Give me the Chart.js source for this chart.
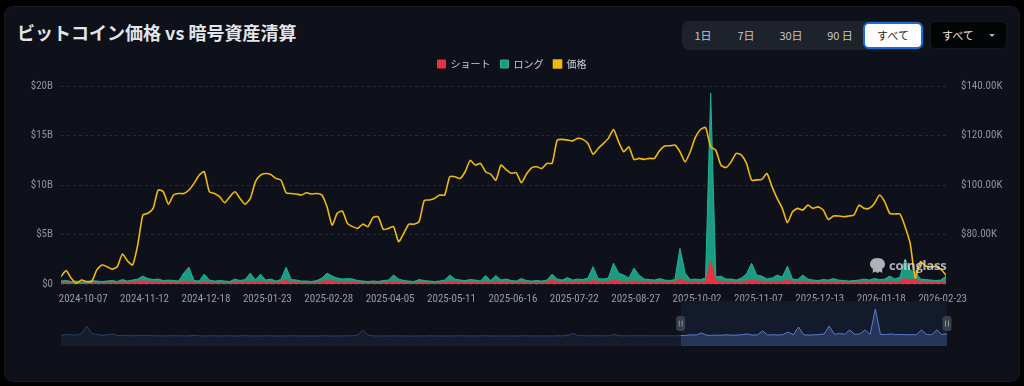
<!DOCTYPE html>
<html lang="ja">
<head>
<meta charset="utf-8">
<title>ビットコイン価格 vs 暗号資産清算</title>
<script src="https://cdn.jsdelivr.net/npm/chart.js@4.4.1/dist/chart.umd.min.js"></script>
<style>
  html, body { margin:0; padding:0; background:#000; }
  body { position:relative; width:1024px; height:386px; overflow:hidden; font-family:"Noto Sans CJK JP","Noto Sans",sans-serif; }
  .card { position:absolute; left:4px; top:6px; width:1016px; height:376px; background:#0e1119; border:1px solid #171b23; border-radius:9px; box-sizing:border-box; }
  .title { position:absolute; left:17px; top:19px; line-height:26px; font-size:18px; font-weight:700; color:#e3e5e9; white-space:nowrap; }
  .seg { position:absolute; left:682px; top:21px; width:242px; height:29px; background:#1e222a; border-radius:7px; }
  .seg .b { position:absolute; top:0; width:42px; height:29px; line-height:29px; text-align:center; font-size:11px; color:#c2c6cc; }
  .seg .on { top:1px; left:181px; width:60px; height:27px; line-height:23px; box-sizing:border-box; border:2px solid #1b6ed6; border-radius:6px; background:#fff; color:#1c1e23; }
  .sel { position:absolute; left:930px; top:21px; width:77px; height:28px; background:#030405; border:1px solid #14171d; border-radius:5px; box-sizing:border-box; font-size:11px; color:#e4e6ea; line-height:26px; }
  .sel span { position:absolute; left:11px; }
  .sel i { position:absolute; right:11px; top:12px; width:0; height:0; border-left:3px solid transparent; border-right:3px solid transparent; border-top:3px solid #a9adb4; }
  canvas { position:absolute; left:0; }
  #main { top:0; }
  #nav { top:298px; }
  .mark { position:absolute; left:869px; top:256px; display:flex; align-items:center; gap:3px; color:rgba(214,218,224,0.8); font:700 13px "Open Sans",Roboto,sans-serif; letter-spacing:-0.2px; }
</style>
</head>
<body>
<div class="card"></div>
<div class="title">ビットコイン価格 vs 暗号資産清算</div>
<div class="seg">
  <div class="b" style="left:0">1日</div>
  <div class="b" style="left:43px">7日</div>
  <div class="b" style="left:88px">30日</div>
  <div class="b" style="left:137px">90 日</div>
  <div class="b on">すべて</div>
</div>
<div class="sel"><span>すべて</span><i></i></div>
<canvas id="main" width="1024" height="305"></canvas>
<canvas id="nav" width="1024" height="50"></canvas>
<div class="mark">
  <svg width="17" height="17" viewBox="0 0 17 17"><path d="M8.5 1C3.5 1 1 4 1 7.2c0 2.3 1.3 3.6 2.8 4.4V16l2.4-1.6L8.5 16l2.3-1.6 2.4 1.6v-4.4c1.5-.8 2.8-2.1 2.8-4.4C16 4 13.5 1 8.5 1z" fill="rgba(214,218,224,0.8)"/></svg>
  <span>coinglass</span>
</div>
<script>
// ---- data (one value every DAY_STEP days from START_DATE) ----
const START_DATE = '2024-09-24';
const DAY_STEP = 3;
const X_TICK_DATES = ['2024-10-07','2024-11-12','2024-12-18','2025-01-23','2025-02-28','2025-04-05','2025-05-11',
  '2025-06-16','2025-07-22','2025-08-27','2025-10-02','2025-11-07','2025-12-13','2026-01-18','2026-02-23'];

// BTC price, $K
const PRICE_K = [
  63.0,65.4,62.3,60.3,61.6,61.0,61.0,65.7,67.7,67.0,
  66.0,67.0,72.1,69.3,67.7,75.8,87.9,88.6,90.6,98.0,
  97.3,92.3,96.0,96.6,96.6,98.0,100.7,104.0,105.4,97.3,
  96.6,95.3,92.9,95.3,97.3,94.6,92.3,94.6,101.3,104.0,
  104.7,104.3,102.7,102.0,96.9,96.6,
  96.4,96.0,96.9,96.4,96.6,
  96.0,91.2,83.8,88.6,89.5,84.5,83.2,82.5,84.2,83.2,
  86.9,87.2,82.1,82.5,83.2,77.1,80.5,84.2,84.2,85.2,
  93.7,94.0,94.6,96.0,96.0,103.4,103.4,102.7,105.4,110.0,
  108.1,108.8,105.4,104.4,102.0,108.1,106.3,104.8,105.0,101.0,
  104.5,107.0,107.4,106.7,108.8,108.8,118.2,118.5,118.2,117.9,
  118.9,118.5,116.8,112.5,114.8,116.8,118.9,122.5,117.5,113.5,
  115.5,110.4,110.8,110.4,110.8,110.8,113.9,115.8,115.9,116.2,
  113.5,109.4,113.5,119.3,122.5,123.3,115.5,114.1,108.1,107.1,
  109.4,112.8,112.1,108.8,102.0,102.1,
  102.3,104.7,99.3,94.6,90.6,
  84.8,89.2,90.6,89.9,91.9,90.6,91.2,89.9,86.1,87.5,
  87.5,87.2,87.5,87.9,91.9,90.6,90.6,92.6,96.0,93.3,
  88.6,88.3,88.3,83.2,76.4,62.5,69.0,67.3,67.0,67.0,
  65.9,63.6
];

// short liquidations, $B
const SHORT_B = [
  .10,.12,.08,.10,.07,.08,.12,.10,.08,.10,
  .12,.09,.15,.12,.20,.25,.35,.25,.20,.22,
  .15,.18,.12,.12,.30,.25,.12,.10,.20,.12,
  .10,.10,.10,.08,.15,.12,.15,.25,.15,.30,
  .12,.15,.10,.20,.40,.15,
  .15,.10,.10,.08,.12,.25,.35,.30,.25,.20,
  .22,.20,.12,.10,.08,.10,.08,.12,.15,.30,
  .20,.12,.10,.08,.15,.15,.10,.08,.10,.15,
  .30,.20,.15,.12,.15,.15,.10,.25,.12,.30,
  .15,.18,.12,.10,.20,.12,.10,.12,.10,.15,
  .50,.20,.15,.25,.15,.20,.20,.25,.35,.25,
  .20,.25,.40,.30,.25,.20,.30,.25,.20,.18,
  .15,.20,.15,.12,.20,.50,.30,.20,.20,.18,
  .25,2.3,.30,.30,.20,.20,.15,.20,.30,.40,
  .30,
  .30,.20,.20,.30,.25,.40,.20,.18,.30,.20,
  .15,.12,.18,.15,.20,.15,.12,.12,.12,.15,
  .20,.15,.20,.18,.20,.30,.20,.25,.55,.40,
  .50,.20,.18,.15,.15,.15,.20
];

// long liquidations, $B
const LONG_B = [
  .20,.23,.17,.20,.13,.17,.23,.20,.17,.20,
  .23,.16,.30,.18,.20,.25,.45,.30,.25,.28,
  .20,.22,.23,.18,.80,1.45,.23,.20,.80,.28,
  .20,.25,.20,.17,.35,.23,.30,.85,.25,.70,
  .28,.35,.20,.25,1.30,.30,
  .25,.20,.20,.17,.23,.35,.75,.50,.35,.30,
  .33,.30,.23,.20,.17,.20,.17,.23,.25,.60,
  .30,.23,.20,.17,.30,.20,.20,.17,.20,.25,
  .60,.30,.25,.23,.30,.25,.20,.60,.23,.55,
  .25,.32,.23,.20,.35,.23,.20,.23,.20,.25,
  .50,.30,.25,.40,.25,.30,.25,.35,1.40,.30,
  .30,.35,1.70,.80,.65,.40,1.30,.65,.30,.27,
  .25,.35,.25,.23,.25,3.10,.80,.25,.30,.27,
  .35,17.0,.40,.50,.30,.30,.25,.40,.70,1.70,
  .60,
  .50,.30,.40,.60,.45,1.40,.30,.27,.60,.30,
  .25,.23,.27,.25,.35,.25,.23,.18,.23,.25,
  .30,.25,.35,.27,.30,.50,.30,.45,1.95,1.00,
  .70,.30,.27,.25,.20,.25,.60
];

// navigator: total liquidations over the long history, $B (10-day steps)
const NAV_TOTAL_B = [
  0.8,1.5,1.2,1.0,2.0,7.4,2.2,1.5,0.9,1.2,
  1.8,0.8,0.6,0.9,0.5,0.7,0.6,0.8,0.5,0.6,
  0.4,0.7,0.5,0.6,0.4,0.5,0.8,0.5,0.4,0.6,
  0.5,0.4,0.6,0.5,0.4,0.5,0.7,0.4,0.5,0.4,
  0.6,0.5,0.4,0.5,0.4,0.6,0.4,0.5,0.4,0.5,
  0.4,0.6,0.5,0.4,0.5,0.4,0.6,0.5,1.2,4.4,
  1.0,0.5,0.4,0.5,0.4,0.6,0.4,0.5,0.4,0.4,
  0.5,0.4,0.6,0.4,0.5,0.4,0.5,0.4,0.6,0.4,
  0.5,0.4,0.6,0.5,0.4,0.5,0.4,0.4,0.5,0.4,
  0.5,0.6,0.4,0.5,0.4,0.5,0.4,0.6,0.5,1.0,
  2.0,0.8,0.6,0.5,0.7,0.5,0.6,0.5,1.5,0.6,
  0.5,0.6,0.5,0.7,0.5,0.6,0.5,0.6,0.5,0.6,
  0.5,0.7,0.8,1.2,1.0,2.5,1.0,0.8,1.0,0.9,
  1.2,0.9,1.0,1.3,1.8,1.0,1.2,3.9,1.0,1.3,
  1.0,1.4,3.2,1.2,6.7,1.3,1.0,1.2,1.4,1.8,
  7.4,1.5,2.2,1.6,4.6,1.5,1.8,4.6,1.5,19.3,
  1.6,1.4,1.8,1.3,1.5,1.2,1.4,1.3,4.6,1.5,
  1.3,4.6,1.4,2.0
];
const NAV_SEL_START = 121;   // first navigator point inside the selected window

if (SHORT_B.length !== PRICE_K.length || LONG_B.length !== PRICE_K.length) {
  throw new Error('length mismatch ' + PRICE_K.length + ' ' + SHORT_B.length + ' ' + LONG_B.length);
}

const dayOf = s => Math.round((Date.parse(s) - Date.parse(START_DATE)) / 864e5);
const X_TICK_DAYS = X_TICK_DATES.map(dayOf);
const pts = arr => arr.map((v, i) => ({ x: i * DAY_STEP, y: v }));

const AXIS_FONT = { family: "'Liberation Sans Narrow', 'Roboto Condensed', Roboto, sans-serif", size: 11 };
const JP_FONT = "'Noto Sans CJK JP', 'Noto Sans', sans-serif";

new Chart(document.getElementById('main'), {
  type: 'line',
  data: {
    datasets: [
      { label: 'ショート', data: pts(SHORT_B), yAxisID: 'yLiq', stack: 'liq', order: 1,
        borderColor: '#e8323f', backgroundColor: '#e8323f', borderWidth: 1, fill: 'origin', pointRadius: 0, tension: 0 },
      { label: 'ロング', data: pts(LONG_B), yAxisID: 'yLiq', stack: 'liq', order: 1,
        borderColor: '#22b393', backgroundColor: '#1b9c82', borderWidth: 1, fill: 'origin', pointRadius: 0, tension: 0 },
      { label: '価格', data: pts(PRICE_K), yAxisID: 'yPrice', order: 0,
        borderColor: '#f0b90b', backgroundColor: '#f0b90b', borderWidth: 1.6, fill: false, pointRadius: 0, tension: 0.2 }
    ]
  },
  options: {
    responsive: false,
    animation: false,
    devicePixelRatio: 1,
    layout: { padding: { top: 49, left: 0, right: 0, bottom: 0 } },
    scales: {
      x: {
        type: 'linear', min: 0, max: (PRICE_K.length - 1) * DAY_STEP,
        grid: { display: false }, border: { display: false },
        afterBuildTicks: s => { s.ticks = X_TICK_DAYS.map(v => ({ value: v })); },
        afterFit: s => { s.height = 21; },
        ticks: { autoSkip: false, maxRotation: 0, padding: 1, color: '#979ca5', font: AXIS_FONT,
                 callback: (v, i) => X_TICK_DATES[i] }
      },
      yLiq: {
        position: 'left', stacked: true, min: 0, max: 20,
        grid: { color: '#252932', drawTicks: false },
        border: { display: false, dash: [3, 3] },
        afterFit: s => { s.width = 61; },
        ticks: { stepSize: 5, padding: 8, color: '#8d929b', font: AXIS_FONT,
                 callback: v => v === 0 ? '$0' : '$' + v + 'B' }
      },
      yPrice: {
        position: 'right', min: 60, max: 140,
        grid: { display: false }, border: { display: false },
        afterFit: s => { s.width = 78; },
        ticks: { stepSize: 20, padding: 7, color: '#8d929b', font: AXIS_FONT,
                 callback: v => v === 60 ? '' : '$' + v.toFixed(2) + 'K' }
      }
    },
    plugins: {
      legend: {
        position: 'top',
        labels: { boxWidth: 8, boxHeight: 8, padding: 10, color: '#c9cdd3',
                  font: { family: JP_FONT, size: 10 },
                  sort: (a, b) => a.datasetIndex - b.datasetIndex }
      },
      // empty subtitle used only as a gap between legend and plot
      subtitle: { display: true, text: '', weight: 500, padding: 0, font: { size: 6 } },
      tooltip: { enabled: false }
    }
  }
});

const navWindow = {
  id: 'navWindow',
  beforeDatasetsDraw(chart) {
    const { ctx, chartArea: a, scales: { x } } = chart;
    const x0 = x.getPixelForValue(NAV_SEL_START), x1 = x.getPixelForValue(NAV_TOTAL_B.length - 1);
    ctx.save();
    ctx.fillStyle = '#131a2b';
    ctx.fillRect(x0, a.top, x1 - x0, a.bottom - a.top);
    ctx.restore();
  },
  afterDraw(chart) {
    const { ctx, chartArea: a, scales: { x } } = chart;
    const cy = (a.top + a.bottom) / 2;
    [NAV_SEL_START, NAV_TOTAL_B.length - 1].forEach(v => {
      const cx = x.getPixelForValue(v);
      ctx.save();
      ctx.fillStyle = '#393e49';
      ctx.beginPath();
      ctx.roundRect(cx - 4.5, cy - 7.5, 9, 15, 3);
      ctx.fill();
      ctx.strokeStyle = '#8e949e';
      ctx.lineWidth = 1;
      ctx.beginPath();
      ctx.moveTo(cx - 1.5, cy - 3); ctx.lineTo(cx - 1.5, cy + 3);
      ctx.moveTo(cx + 1.5, cy - 3); ctx.lineTo(cx + 1.5, cy + 3);
      ctx.stroke();
      ctx.restore();
    });
  }
};

new Chart(document.getElementById('nav'), {
  type: 'line',
  data: {
    datasets: [
      { data: NAV_TOTAL_B.map((v, i) => ({ x: i, y: i >= NAV_SEL_START ? v : null })),
        borderColor: '#5877c0', backgroundColor: '#26355a', fill: 'start', borderWidth: 1, pointRadius: 0, tension: 0 },
      { data: NAV_TOTAL_B.map((v, i) => ({ x: i, y: v })),
        borderColor: '#2a3e6c', backgroundColor: '#151c2e', fill: 'start', borderWidth: 1, pointRadius: 0, tension: 0 }
    ]
  },
  options: {
    responsive: false,
    animation: false,
    devicePixelRatio: 1,
    layout: { padding: { left: 61, right: 77, top: 3, bottom: 2 } },
    scales: {
      x: { type: 'linear', display: false, min: 0, max: NAV_TOTAL_B.length - 1 },
      y: { display: false, min: -6.6, max: 24.9 }
    },
    plugins: { legend: { display: false }, tooltip: { enabled: false } }
  },
  plugins: [navWindow]
});
</script>
</body>
</html>
